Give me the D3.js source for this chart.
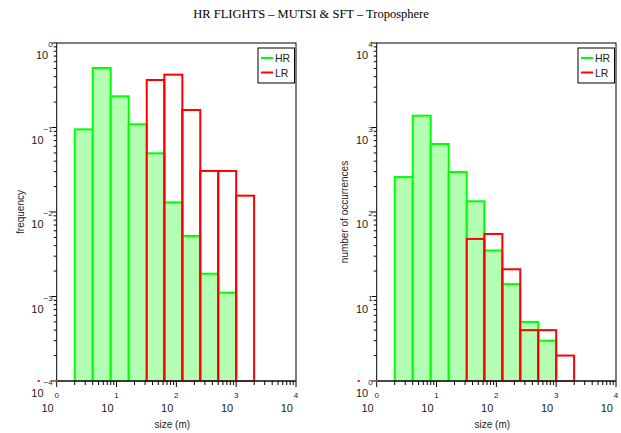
<!DOCTYPE html>
<html><head><meta charset="utf-8">
<script src="https://cdn.jsdelivr.net/npm/d3@7"></script>
<style>body{margin:0;background:#fff}svg{display:block}</style>
</head><body>
<script>
// ---- data ----
const title = "HR FLIGHTS \u2013 MUTSI & SFT \u2013 Troposphere";
const binEdges = [2, 4, 8, 16, 32, 63, 126, 251, 501, 1000, 1995]; // size (m)
const hrFrequency = [0.095, 0.506, 0.234, 0.109, 0.0495, 0.013, 0.0052, 0.00186, 0.00111, 0];
const lrFrequency = [0, 0, 0, 0, 0.365, 0.422, 0.161, 0.0306, 0.0306, 0.0156];
const hrCount = [259, 1380, 638, 297, 134, 35, 14, 5, 3, 0];
const lrCount = [0, 0, 0, 0, 48, 55, 21, 4, 4, 2];
const xExponents = [0, 1, 2, 3, 4];
const freqExponents = [-4, -3, -2, -1, 0];
const countExponents = [0, 1, 2, 3, 4];
const seriesNames = ["HR", "LR"];

const W = 621, H = 433;
const svg = d3.select("body").append("svg").attr("width", W).attr("height", H);
const GREEN = "#00ff00", FILL = "#b4ffb4", RED = "#ff0000";

svg.append("text").attr("x", 311).attr("y", 18).attr("text-anchor", "middle")
  .attr("font-family", "Liberation Serif, Times New Roman, serif").attr("font-size", 12.5)
  .text(title);

function panel(opt) {
  const x = d3.scaleLog().domain([1, 1e4]).range([opt.x0, opt.x1]);
  const y = d3.scaleLog().domain(opt.yDomain).range([381, 43]);
  const g = svg.append("g");
  const bins = binEdges.slice(0, -1).map((e, i) => ({ lo: e, hi: binEdges[i + 1], i }));
  const ybot = y.range()[0];

  // HR bars
  g.selectAll("rect.hr").data(bins.filter(b => opt.hr[b.i] > 0)).join("rect")
    .attr("x", b => x(b.lo)).attr("width", b => x(b.hi) - x(b.lo))
    .attr("y", b => y(opt.hr[b.i])).attr("height", b => ybot - y(opt.hr[b.i]))
    .attr("fill", FILL).attr("stroke", GREEN).attr("stroke-width", 2);
  // LR bars
  g.selectAll("rect.lr").data(bins.filter(b => opt.lr[b.i] > 0)).join("rect")
    .attr("x", b => x(b.lo)).attr("width", b => x(b.hi) - x(b.lo))
    .attr("y", b => y(opt.lr[b.i])).attr("height", b => ybot - y(opt.lr[b.i]))
    .attr("fill", "none").attr("stroke", RED).attr("stroke-width", 2);

  // frame
  g.append("rect").attr("x", opt.x0).attr("y", 43).attr("width", opt.x1 - opt.x0).attr("height", 338)
    .attr("fill", "none").attr("stroke", "#000").attr("stroke-width", 1);
  g.append("line").attr("x1", opt.x0).attr("x2", opt.x1).attr("y1", 381).attr("y2", 381)
    .attr("stroke", "#333").attr("stroke-width", 1.6);

  const font = "Liberation Sans, Arial, sans-serif";
  // x ticks
  const xt = [];
  for (let d = 0; d < 4; d++) for (let k = 1; k < 10; k++) xt.push({ v: k * Math.pow(10, d), major: k === 1 });
  xt.push({ v: 1e4, major: true });
  g.selectAll("line.xt").data(xt).join("line")
    .attr("x1", d => x(d.v)).attr("x2", d => x(d.v))
    .attr("y1", 381).attr("y2", d => d.major ? 387 : 385).attr("stroke", "#000").attr("stroke-width", 1);
  xExponents.forEach(e => {
    const px = x(Math.pow(10, e));
    g.append("text").attr("x", px).attr("y", 398).attr("text-anchor", "middle")
      .attr("font-family", font).attr("font-size", 8).attr("fill", "#222").text(String(e).replace("-", "\u2212"));
    g.append("text").attr("x", px - 3).attr("y", 412).attr("text-anchor", "end")
      .attr("font-family", font).attr("font-size", 11).attr("fill", "#222").text("10");
  });
  // y ticks
  const yd = opt.yDomain.map(Math.log10);
  const yt = [];
  for (let d = yd[0]; d < yd[1]; d++) for (let k = 1; k < 10; k++) yt.push({ v: k * Math.pow(10, d), major: k === 1 });
  yt.push({ v: Math.pow(10, yd[1]), major: true });
  g.selectAll("line.yt").data(yt).join("line")
    .attr("x1", opt.x0).attr("x2", d => opt.x0 - (d.major ? 5 : 3))
    .attr("y1", d => y(d.v)).attr("y2", d => y(d.v)).attr("stroke", "#000").attr("stroke-width", 1);
  opt.yExp.forEach(e => {
    const py = y(Math.pow(10, e));
    const t = g.append("text").attr("x", opt.x0 - 4).attr("y", py + 16).attr("text-anchor", "end")
      .attr("font-family", font).attr("fill", "#222");
    t.append("tspan").attr("font-size", 11).text("10");
    t.append("tspan").attr("font-size", 8).attr("dy", -12).text(String(e).replace("-", "\u2212"));
  });
  // small marker left of origin
  g.append("rect").attr("x", opt.x0 - 19).attr("y", 380).attr("width", 2).attr("height", 2).attr("fill", RED);
  g.append("rect").attr("x", opt.x0 - 1).attr("y", 380).attr("width", 2).attr("height", 2).attr("fill", "#e03000");

  // axis titles
  g.append("text").attr("x", (opt.x0 + opt.x1) / 2 - 4).attr("y", 428).attr("text-anchor", "middle")
    .attr("font-family", font).attr("font-size", 10).attr("fill", "#222").text("size (m)");
  g.append("text").attr("transform", `translate(${opt.ylabX},212) rotate(-90)`).attr("text-anchor", "middle")
    .attr("font-family", font).attr("font-size", 10).attr("fill", "#222").text(opt.ylabel);

  // legend
  const lx = opt.x1 - 38, ly = 48;
  g.append("rect").attr("x", lx).attr("y", ly).attr("width", 36.5).attr("height", 35)
    .attr("fill", "#fff").attr("stroke", "#000").attr("stroke-width", 1);
  seriesNames.forEach((n, i) => {
    const yy = ly + 10 + i * 14.5;
    g.append("line").attr("x1", lx + 3).attr("x2", lx + 15).attr("y1", yy).attr("y2", yy)
      .attr("stroke", i === 0 ? GREEN : RED).attr("stroke-width", 2);
    g.append("text").attr("x", lx + 17).attr("y", yy + 4).attr("font-family", font).attr("font-size", 10.5)
      .attr("fill", "#222").text(n);
  });
}

panel({ x0: 56.7, x1: 296, yDomain: [1e-4, 1], hr: hrFrequency, lr: lrFrequency, yExp: freqExponents,
  ylabel: "frequency", ylabX: 24 });
panel({ x0: 376.7, x1: 616, yDomain: [1, 1e4], hr: hrCount, lr: lrCount, yExp: countExponents,
  ylabel: "number of occurrences", ylabX: 348 });
</script>
</body></html>
